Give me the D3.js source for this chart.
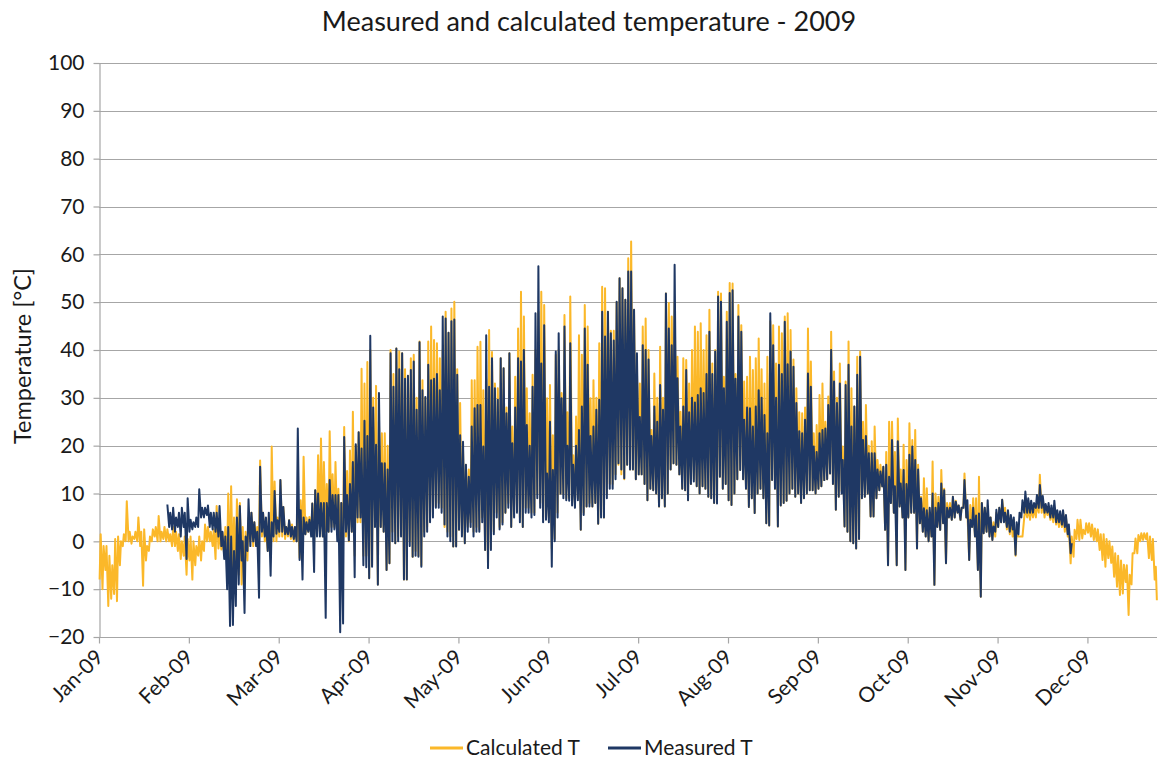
<!DOCTYPE html>
<meta charset="utf-8">
<style>
body {
  margin: 0;
  background: #fff;
  font-family: Lato, "Liberation Sans", sans-serif;
}
.grid line { stroke: #a6a6a6; stroke-width: 1.2; }
.axis path, .axis line { stroke: #a6a6a6; stroke-width: 1.2; fill: none; }
.axis text { fill: #1a1a1a; font-size: 21px; font-family: Lato, sans-serif; }
.series { fill: none; stroke-width: 2; stroke-linejoin: round; }
</style>
<body>
<script src="https://cdn.jsdelivr.net/npm/d3@7/dist/d3.min.js"></script>
<script>

// values: one daily low and one daily high per day (day 0 = 1 Jan 2009)
var seriesNames = ["Calculated T", "Measured T"];
var seriesColors = ["#fbb829", "#1f3864"];

var calcHigh = [
  1.5,-1,-1,-3,-5,0.5,1,0,1.5,8.4,2,1,2,5,2,2.5,-1,1,2.5,3,5.3,2,3,2.5,1.5,3,2,1.5,0,1,0.5,        // jan
  1,0,-1,1,0,3.5,3,2,2.5,7.4,2,1.8,3,10,11.5,5,8.8,8,3,2,5,6,4,3,16.9,6,3,5,                       // feb
  19.8,12.5,5,12.8,7.2,3,4.4,3.5,3,8,8.6,17.7,5,5.1,7.9,10.7,18,21.5,16.6,12,23,14,16.6,11,8,23.9,14.7,19,27.1,20,22.8,36.1,33,37.5,
  40,30,32.5,25,22.6,22.6,20,40,35,40.3,39.7,39.3,36,34.6,38.3,39,30,41.8,33.7,30,41.8,44.9,42.1,41.4,38.3,40,48,43.6,48.7,50.1,
  36,28.9,19,16,15,33.7,33.7,40.7,41.7,31.6,34,44.2,39.6,33,32,38.3,36.2,28,39.3,24,34.4,44.5,52.2,47,32,26.8,34.8,40,48,52.2,49.4,
  29.9,32.7,22.2,39,40,31,47.3,27,51.2,18,26.1,43.1,39,49.4,44.9,29.9,33.7,30,41.4,53.2,52.9,48,44,44,50,55,52.9,50.5,59.2,62.7,48.4,35.8,33,44.9,46.6,
  40,23.3,35.1,30,40.7,30,51.8,49.8,47,50,38.6,27.1,38.3,37.9,33,40,44.9,43.8,45.6,40,43.1,48.4,37.2,40,52.2,51.8,34.4,48,54,53.9,
  35,49.4,45.2,33.4,34.4,38.6,35.8,38.3,42.4,36,33,38.6,46,45.2,37.2,44.9,43.5,47,47.7,44.2,38,32,27,26.8,28,44.5,37.6,22.6,24.3,30.6,33,
  25,30.3,43.8,35.5,30,37.2,19.8,33.4,41.8,32,28.2,38.6,39.7,25,28.5,20,20.9,24,17,16,15.6,18.7,25,25,18.7,25.7,15,20.2,17,24.7,21.2,23.3,
  16,9.3,13.2,11.1,6,16.7,10,9.3,14.9,11,8,8,9.3,8.5,7.5,7,14.2,6.2,7.6,9,9,13.5,8,7,6.6,5,4,6,7,8.7,7,
  6,5,4.5,2,1,1,7,7,7,7,8,13.9,9,7,7,6.5,7,5.5,5.5,6,5,3,1,
  2.4,4.5,4.5,2.4,3.8,3.8,3.5,2.7,2.5,1.5,1.5,0.5,0,-1.1,-2.5,-3,-4,-4.9,-5,-7,-2.5,0.6,1.3,1.7,1.7,1.7,1,0.5,-5.3   // dec
];
var calcLow = [
  -8,-10,-6,-13.5,-12,-11,-12.5,-5,-1,0,0,-0.5,0.5,0,-1,-9.3,-4,-2,0,1,0,0,0.5,0,0,-1,-1,-2,-3.7,-3,-7,
  -4,-8,-5,-3,-4,-2,0,0,-1,-3.7,-1.5,-1.7,-3,-4,-6,-8,-5,-7,-9,-9,-4,0,-1,-0.5,0,1,0,-2,
  -3,0,0,1,1,0.5,1,0.5,0,0,-3.5,0,1.5,2,1.5,0,2,2,1,2,2,3,3,2,-1,0,1,0,2,-3,4,4,-3,-3,
  -7.7,-5,5,-9,3,2,-6,-4.6,2,-0.4,1,2,-8,-8,0,-3.2,-2,-3,-5,2,3,5,6,7.3,8,7,3,2,1,-1.1,
  -1,2.4,2,-0.4,3,4,2,3,2.5,5,-1.8,-5,-1.5,2,6,3,4,6,8,3,6,7,5,3,7,7,6,6,10,8,5,
  5,5,-1.5,0.5,6,10,10,9,9,8,8,9,2.4,6,7.3,8,7.3,8,3.7,6,5,10,12,12,14,16,14,13,16,15,15,13,14,14,12,
  8.6,11,10.7,10,7.3,9,7.3,10,15,16.3,16,14,11,10.7,8.6,12,13,11.5,10,11.5,11,9.3,9,8,8,13.5,11,12,8.6,7.6,
  10,13,14.9,13,11,7.2,9,5.9,10,11,9,3.8,3.3,12.8,11,3.1,7.5,8,8.5,10,11,9.3,10,8,9,10,10.7,10.7,10,11,11.5,
  12.8,13,14.2,12,6.6,9.3,10.5,3.1,2,0,-0.4,-1.5,0.5,9,9.3,10,5.2,5.2,9,10.7,11.5,2.4,-5,8,6,-5,7.3,5,-6,5,6,6,
  -1.5,3.8,2,1,0,1,-9.1,3,2.4,3.8,-4.6,5,4.5,5,6,4.5,7,5,-3.9,3,1,-6,-11.6,1.7,2,1,0.3,1,3,4,5,
  2.5,1.5,1,-3,1,1,5,5,4.5,5,5,6,6,5,5.5,4.5,4,3.5,3,3,2,1,-4.6,
  -3.2,0.5,0.3,0.6,1.5,1.8,1,0.3,0,-1.8,-3.9,-5.3,-3.5,-4.5,-7.4,-9.5,-11.2,-10.9,-8.5,-15.4,-9,-2.5,-2.5,0,0.3,0.5,-3.5,-3.9,-8
];
var calcLastReading = -12.3;   // last hour of the year

// measured series runs from day 23 to day 335
var measStartDay = 23;
var measHigh = [
  7.7,6,7,5,6,7,6,9,
  4.5,4,5,10.9,7,7,7.5,6,6,6,7.4,2,1,3,1,-2,5,7.4,0,1,8.8,6,4,2,15.6,6,5,6,
  4,10.5,4.4,12.8,7.2,3,4.4,3,3,23.6,6.5,5,4,4.5,7.9,10.7,10,8,8,8,12.8,9.7,9.7,9.7,8,21.8,9.7,12,16.6,20.3,22.8,19.4,25.2,22,
  43,28,20.2,31,16.3,16.3,15,39.3,32.3,40.3,36,39.3,34,34.6,35.8,37.6,27.5,41.6,31.6,30.2,36.9,33.7,34,35,31.6,47,46.6,43.6,46,46.4,
  34.8,22.2,20.8,16,13.5,24,27.8,28.5,28.5,19.8,43.1,32.3,38.3,32,29.6,38.3,36.2,26.8,39.3,20.5,28,38.3,37.6,40,24.3,20,32.3,47.7,57.5,37.2,45.2,
  14.2,25,14.9,39.7,43.5,29.9,44.9,20,41.4,16,20,23.3,28.2,44.5,36.9,22,24,27.5,29.6,48,42.8,48,43.5,42,50.1,55,52.9,50.5,56.4,56.4,48.4,39.3,26,41,40,
  38,22,28.2,25,32.7,27.5,51.8,44.5,41,57.8,34.1,24,28.2,35.8,27,30,29,30.6,32,31,35,43.8,35,39.7,51.2,50.1,32,45.9,51.9,52.5,
  34,47,43.8,25.4,28,27.8,24,28.2,31.6,30,26.4,22.6,47.7,41,30,36.9,35,45.9,37,39.7,36.5,28.9,23,22.6,25.4,35.1,32.3,19.8,18.7,22.6,23.3,
  23.6,28.5,40,33.4,28.9,33,17,32.7,36.9,24,28.2,34.8,38.6,21.2,22,18.4,18.4,18.4,15,14.6,15.6,16,13.5,21.2,11.5,20.9,12.1,14.9,12,18.1,19.8,17,
  15,9,6.9,6.5,7,10,7,8,12.1,10.7,7,7,9.3,8.3,7.5,7,12.8,8.6,4.5,7,5.4,5.8,8,7,8.6,5,3.1,6.6,7,8.7,6,
  6.5,5.5,5,4,6,8.6,10.4,9,8.5,8,9.7,11.8,9.5,7.8,8,7.5,8.5,6.5,6.3,6.5,5.5,3.5,-0.4
];
var measLow = [
  null,3,2.5,2,3,1,3,-3.7,
  2,2.5,3,3,5,5,5.5,3,2.5,2,1,-1,-3.7,-10,-17.7,-17.5,-13.5,-9,-4,-15,-2,-1,0,-1,-11.8,2,1,-2,
  -7.2,1,1.6,2,2,1.5,1.5,1,0.5,0,-3.9,-8,1.5,2,1,-6.4,1,1,1,-16,2,2,2.5,0,-19,-17.2,2,0.2,2,-7.5,5,5,-5,-5.4,
  -7.7,-5.3,3,-9.1,3,2,-6,-4.6,0,-0.4,0,1,-8,-8,-1,-3.2,-3,-3.2,-5.3,1,2,4,5,7,7,6,3.5,1,0,-1.1,
  -1.1,2.4,1,-0.4,2,3,1,2,2,4,-1.8,-5.6,-1.8,1.5,5,2.5,3.5,6,7,3,5,6,4,3,6,6,5,5.5,9,7,4,
  4.5,4,-5.3,0,5,10,9,8.6,8.5,7.5,7,8.6,2.4,5.5,7.3,7.3,7.3,8,3.7,5,5,9,11,11,13,16.3,15,13.2,16,15,15,13,14,14,12,
  8.6,11,10.7,10,7.3,9,7.3,10,15,16.3,16,14,11,10.7,8.6,12,12.5,11.5,10,11.5,11,9.3,9,8,7.9,13.5,11,12,8.6,7.6,
  10,13,14.9,13,11,7.2,9,5.9,10,11,9,3.8,3.3,12.8,11,3.1,7.5,8,8.5,10,11,9.3,10,8,9,10,10.7,10.7,10,11,11.5,
  12.8,13,14.2,12,6.6,9.3,10,3.1,2,0,-0.4,-1.5,0.5,9,9.3,10,5.2,5.2,9,10.7,11.5,2.4,-5,8,6,-5,7.3,5,-6,5,6,6,
  -1.5,3.8,2,1,0,1,-9.1,3,2.4,3.8,-4.6,5,4.5,5,6,4.5,7,5,-3.9,3,1,-6,-11.6,1.7,2,1,0.3,2,3,4,4,
  3,2,2.5,-2.8,1.5,5,6,6,6,6,7,7,7,6,6,5,5,4,4,3.5,3,1.5,-2.5
];

var yTicks = [-20, -10, 0, 10, 20, 30, 40, 50, 60, 70, 80, 90, 100];
var xTickLabels = ["Jan-09", "Feb-09", "Mar-09", "Apr-09", "May-09", "Jun-09",
                   "Jul-09", "Aug-09", "Sep-09", "Oct-09", "Nov-09", "Dec-09"];
var hoursPerTick = 744;
var hoursInYear = 8760;

// daily low at 05:00, daily high at 14:00
function toPoints(high, low, startDay) {
  var pts = [];
  high.forEach(function(h, i) {
    var day = startDay + i;
    if (low[i] != null) pts.push([day * 24 + 5, low[i]]);
    if (h != null) pts.push([day * 24 + 14, h]);
  });
  return pts;
}
var calcPts = toPoints(calcHigh, calcLow, 0);
calcPts.push([hoursInYear - 1, calcLastReading]);
var measPts = toPoints(measHigh, measLow, measStartDay);

var W = 1159, H = 760;
var plotLeft = 99, plotRight = 1157, plotTop = 63, plotBottom = 637;

var svg = d3.select("body").append("svg")
    .attr("width", W)
    .attr("height", H);

var x = d3.scaleLinear().domain([0, hoursInYear]).range([plotLeft, plotRight]);
var y = d3.scaleLinear().domain([-20, 100]).range([plotBottom, plotTop]);

// gridlines
svg.append("g").attr("class", "grid")
  .selectAll("line")
  .data(yTicks).enter().append("line")
    .attr("x1", plotLeft).attr("x2", plotRight)
    .attr("y1", function(d) { return Math.round(y(d)) + 0.5; })
    .attr("y2", function(d) { return Math.round(y(d)) + 0.5; });

// y axis
var yAxis = svg.append("g")
    .attr("class", "axis")
    .attr("transform", "translate(" + (plotLeft + 0.5) + ",0)")
    .call(d3.axisLeft(y).tickValues(yTicks).tickSize(6).tickSizeOuter(0).tickPadding(9));

// x axis
var xAxis = svg.append("g")
    .attr("class", "axis")
    .attr("transform", "translate(0," + (plotBottom + 0.5) + ")")
    .call(d3.axisBottom(x)
      .tickValues(d3.range(0, hoursInYear, hoursPerTick))
      .tickFormat(function(d, i) { return xTickLabels[i]; })
      .tickSize(6).tickSizeOuter(0));
xAxis.select(".domain").attr("d", "M" + plotLeft + ",0H" + plotRight);
xAxis.selectAll("text")
    .attr("x", 0).attr("y", 0).attr("dy", 0)
    .attr("transform", "translate(5,21) rotate(-45)")
    .style("text-anchor", "end");

// series
var line = d3.line()
    .x(function(d) { return x(d[0]); })
    .y(function(d) { return y(d[1]); });

svg.append("path")
    .datum(calcPts)
    .attr("class", "series")
    .attr("stroke", seriesColors[0])
    .attr("d", line);

svg.append("path")
    .datum(measPts)
    .attr("class", "series")
    .attr("stroke", seriesColors[1])
    .attr("d", line);

// title
svg.append("text")
    .attr("x", 589).attr("y", 31)
    .attr("text-anchor", "middle")
    .attr("font-size", "27px")
    .attr("fill", "#1a1a1a")
    .text("Measured and calculated temperature - 2009");

svg.append("text")
    .attr("transform", "translate(31,356) rotate(-90)")
    .attr("text-anchor", "middle")
    .attr("font-size", "23.5px")
    .attr("fill", "#1a1a1a")
    .text("Temperature [°C]");

// legend
var legendX = [430, 608];
var legend = svg.selectAll(".legend")
    .data(seriesNames).enter().append("g")
    .attr("class", "legend")
    .attr("transform", function(d, i) { return "translate(" + legendX[i] + ",748)"; });
legend.append("line")
    .attr("x1", 0).attr("x2", 33)
    .attr("stroke-width", 3)
    .attr("stroke", function(d, i) { return seriesColors[i]; });
legend.append("text")
    .attr("x", 36).attr("dy", "0.35em")
    .attr("font-size", "21px")
    .attr("fill", "#1a1a1a")
    .text(function(d) { return d; });

</script>
</body>
